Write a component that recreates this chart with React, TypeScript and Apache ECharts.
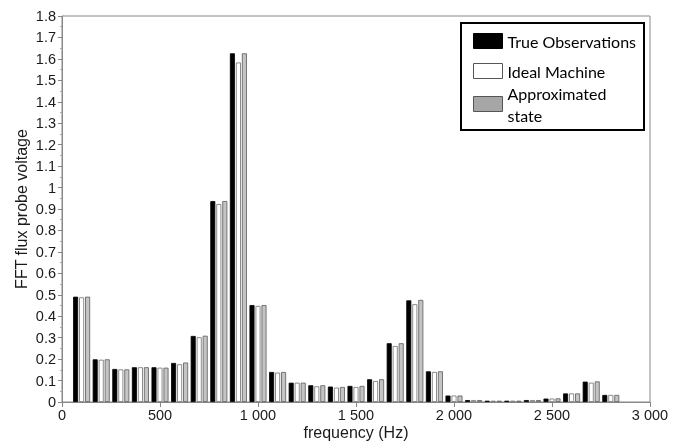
import React, { useEffect, useRef } from "react";
import * as echarts from "echarts";

const frequencies = [100, 200, 300, 400, 500, 600, 700, 800, 900, 1000, 1100, 1200, 1300, 1400, 1500, 1600, 1700, 1800, 1900, 2000, 2100, 2200, 2300, 2400, 2500, 2600, 2700, 2800];
const trueObservations = [0.491, 0.199, 0.154, 0.162, 0.162, 0.182, 0.308, 0.937, 1.626, 0.452, 0.140, 0.090, 0.078, 0.072, 0.075, 0.106, 0.274, 0.474, 0.143, 0.030, 0.009, 0.006, 0.006, 0.009, 0.016, 0.040, 0.095, 0.033];
const idealMachine = [0.488, 0.197, 0.152, 0.162, 0.160, 0.176, 0.302, 0.923, 1.583, 0.448, 0.137, 0.090, 0.073, 0.067, 0.070, 0.098, 0.261, 0.456, 0.140, 0.030, 0.009, 0.006, 0.006, 0.009, 0.016, 0.040, 0.090, 0.033];
const approximatedState = [0.491, 0.199, 0.152, 0.162, 0.160, 0.184, 0.309, 0.937, 1.626, 0.452, 0.140, 0.090, 0.078, 0.070, 0.075, 0.106, 0.274, 0.476, 0.143, 0.030, 0.009, 0.006, 0.006, 0.009, 0.017, 0.040, 0.096, 0.033];
const seriesNames = ["True Observations", "Ideal Machine", "Approximated\nstate"];

const pairs = (ys: number[]) => frequencies.map((f, i) => [f, ys[i]]);

const fmtThousands = (v: number) => {
  if (v >= 1000) {
    const s = String(v);
    return s.slice(0, s.length - 3) + " " + s.slice(s.length - 3);
  }
  return String(v);
};

export default function App() {
  const ref = useRef<HTMLDivElement>(null);
  useEffect(() => {
    if (!ref.current) return;
    const chart = echarts.init(ref.current, undefined, { renderer: "svg" });
    const axisFont = { fontFamily: "Liberation Sans, Arial, sans-serif", fontSize: 14.5, color: "#1a1a1a" };
    const nameFont = { fontFamily: "Liberation Sans, Arial, sans-serif", fontSize: 16, lineHeight: 16, color: "#1a1a1a" };
    const legendText = { fontFamily: "Lato, sans-serif", fontSize: 16, color: "#000" };
    const seriesStyles = [
      { color: "#000000", borderColor: "#000000", borderWidth: 0.8 },
      { color: "#ffffff", borderColor: "#6e6e6e", borderWidth: 0.8 },
      { color: "#c4c4c4", borderColor: "#5a5a5a", borderWidth: 0.8 },
    ];
    const legendIconStyles = [
      { color: "#000000", borderColor: "#000000", borderWidth: 1 },
      { color: "#ffffff", borderColor: "#555555", borderWidth: 1 },
      { color: "#a6a6a6", borderColor: "#555555", borderWidth: 1 },
    ];
    const legendTops = [31, 61, 82];
    const legendLineHeights = [20, 20, 22];
    chart.setOption({
      animation: false,
      grid: {
        left: 62,
        right: 36,
        top: 16,
        bottom: 39,
        containLabel: false,
        outerBoundsMode: "none",
        show: true,
        borderColor: "#888",
        borderWidth: 1,
        backgroundColor: "transparent",
      },
      xAxis: {
        type: "value",
        min: 0,
        max: 3000,
        interval: 500,
        name: "frequency (Hz)",
        nameLocation: "middle",
        nameGap: 22,
        nameMoveOverlap: false,
        nameTextStyle: nameFont,
        axisLine: { show: true, onZero: false, lineStyle: { color: "#888" } },
        axisTick: { show: true, length: 5, lineStyle: { color: "#888" } },
        splitLine: { show: false },
        axisLabel: { ...axisFont, margin: 5, formatter: (v: number) => fmtThousands(v) },
      },
      yAxis: {
        type: "value",
        min: 0,
        max: 1.8,
        interval: 0.1,
        name: "FFT flux probe voltage",
        nameLocation: "middle",
        nameGap: 33,
        nameMoveOverlap: false,
        nameTextStyle: nameFont,
        axisLine: { show: true, lineStyle: { color: "#888" } },
        axisTick: { show: true, length: 4, lineStyle: { color: "#888" } },
        minorTick: { show: true, splitNumber: 2, length: 2, lineStyle: { color: "#aaa" } },
        splitLine: { show: false },
        axisLabel: { ...axisFont, margin: 6 },
      },
      legend: seriesNames.map((n, i) => ({
        show: true,
        left: 473,
        top: legendTops[i],
        padding: 0,
        orient: "vertical",
        itemWidth: 29,
        itemHeight: 15,
        selectedMode: false,
        textStyle: { ...legendText, lineHeight: legendLineHeights[i] },
        data: [{ name: n, icon: "rect", itemStyle: legendIconStyles[i] }],
        z: 6,
      })),
      graphic: [
        {
          type: "rect",
          shape: { x: 461, y: 23, width: 183, height: 107 },
          style: { fill: "#fff", stroke: "#000", lineWidth: 2 },
          z: 1,
        },
      ],
      series: [trueObservations, idealMachine, approximatedState].map((ys, i) => ({
        type: "bar",
        name: seriesNames[i],
        data: pairs(ys),
        barWidth: 5,
        barGap: "20%",
        itemStyle: seriesStyles[i],
      })),
    });
    return () => chart.dispose();
  }, []);
  return <div ref={ref} style={{ position: "fixed", left: 0, top: 0, width: 686, height: 441 }} />;
}
